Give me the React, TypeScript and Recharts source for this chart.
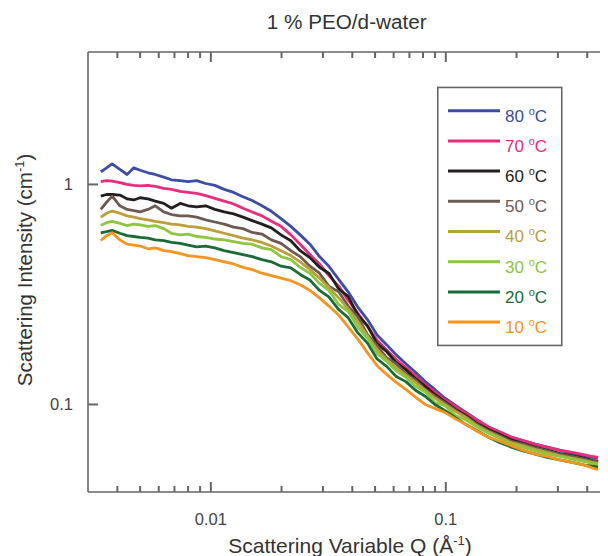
import { LineChart, Line, XAxis, YAxis } from 'recharts';

const q = [
  0.0034, 0.0036, 0.0038, 0.0041, 0.0044, 0.0047, 0.005, 0.0054, 0.0058, 0.0063,
  0.0068, 0.0074, 0.008, 0.0087, 0.0095, 0.0104, 0.0114, 0.0125, 0.0137, 0.015,
  0.0165, 0.0181, 0.0199, 0.0219, 0.024, 0.0264, 0.029, 0.0318, 0.035, 0.0384,
  0.0422, 0.0464, 0.051, 0.056, 0.0615, 0.0676, 0.0743, 0.0817, 0.0898, 0.099,
  0.11, 0.122, 0.136, 0.152, 0.17, 0.19, 0.213, 0.24, 0.27, 0.305,
  0.345, 0.39, 0.42, 0.445,
];

const i80 = [
  1.14, 1.19, 1.24, 1.17, 1.11, 1.19, 1.16, 1.13, 1.11, 1.08,
  1.05, 1.04, 1.03, 1.04, 1.01, 0.99, 0.95, 0.92, 0.88, 0.845,
  0.8, 0.755, 0.7, 0.645, 0.59, 0.535, 0.47, 0.425, 0.37, 0.325,
  0.277, 0.243, 0.207, 0.187, 0.168, 0.153, 0.14, 0.127, 0.117, 0.107,
  0.099, 0.092, 0.085, 0.079, 0.075, 0.071, 0.0685, 0.066, 0.064, 0.062,
  0.06, 0.0585, 0.0575, 0.057,
];
const i70 = [
  1.03, 1.04, 1.035, 1.02, 1.0, 0.99, 0.985, 0.99, 0.98, 0.96,
  0.95, 0.93, 0.92, 0.91, 0.89, 0.865, 0.84, 0.815, 0.78, 0.75,
  0.72, 0.68, 0.645, 0.59, 0.535, 0.48, 0.435, 0.385, 0.345, 0.298,
  0.26, 0.226, 0.196, 0.177, 0.16, 0.147, 0.135, 0.123, 0.114, 0.105,
  0.098, 0.091, 0.085, 0.079, 0.075, 0.071, 0.0685, 0.066, 0.064, 0.062,
  0.0605, 0.059, 0.058, 0.0575,
];
const i60 = [
  0.885, 0.9, 0.9, 0.895, 0.86, 0.85, 0.87, 0.86, 0.84, 0.82,
  0.78, 0.82, 0.8, 0.79, 0.8, 0.77, 0.75, 0.735, 0.71, 0.685,
  0.66, 0.635, 0.59, 0.555, 0.5, 0.465, 0.42, 0.395, 0.335, 0.31,
  0.255, 0.228, 0.189, 0.174, 0.155, 0.144, 0.131, 0.121, 0.111, 0.103,
  0.095, 0.089, 0.082, 0.077, 0.073, 0.069, 0.0665, 0.064, 0.062, 0.06,
  0.0585, 0.057, 0.0557, 0.0552,
];
const i50 = [
  0.77, 0.83, 0.885, 0.8, 0.77, 0.76, 0.75, 0.77, 0.8, 0.75,
  0.73, 0.72, 0.72, 0.71, 0.69, 0.675, 0.66, 0.64, 0.63, 0.605,
  0.595, 0.56, 0.54, 0.5, 0.47, 0.425, 0.395, 0.345, 0.325, 0.28,
  0.25, 0.208, 0.185, 0.163, 0.153, 0.138, 0.129, 0.117, 0.109, 0.102,
  0.094, 0.088, 0.081, 0.076, 0.072, 0.068, 0.066, 0.0635, 0.0615, 0.0595,
  0.058, 0.0565, 0.0553, 0.0548,
];
const i40 = [
  0.71, 0.74, 0.757, 0.74, 0.72, 0.71, 0.7, 0.69, 0.68, 0.67,
  0.66, 0.655, 0.645, 0.64, 0.63, 0.615, 0.6, 0.585, 0.57, 0.56,
  0.545, 0.525, 0.5, 0.475, 0.445, 0.41, 0.375, 0.34, 0.305, 0.272,
  0.238, 0.205, 0.177, 0.16, 0.147, 0.136, 0.126, 0.116, 0.107, 0.1,
  0.093, 0.087, 0.08, 0.075, 0.071, 0.067, 0.065, 0.0625, 0.0605, 0.0585,
  0.057, 0.0555, 0.0545, 0.054,
];
const i30 = [
  0.653, 0.67, 0.68, 0.665, 0.65, 0.66, 0.655, 0.645, 0.65, 0.63,
  0.6, 0.59, 0.595, 0.58, 0.575, 0.565, 0.56, 0.55, 0.54, 0.535,
  0.515, 0.505, 0.47, 0.455, 0.42, 0.395, 0.355, 0.33, 0.285, 0.265,
  0.225, 0.2, 0.17, 0.157, 0.142, 0.133, 0.121, 0.114, 0.102, 0.099,
  0.089, 0.085, 0.079, 0.074, 0.07, 0.066, 0.064, 0.0615, 0.0595, 0.058,
  0.0565, 0.055, 0.054, 0.0535,
];
const i20 = [
  0.603, 0.61, 0.618, 0.6, 0.585, 0.58, 0.575, 0.57, 0.56, 0.555,
  0.545, 0.54, 0.53, 0.52, 0.525, 0.515, 0.5, 0.49, 0.48, 0.47,
  0.455, 0.445, 0.425, 0.418, 0.39, 0.368, 0.33, 0.308, 0.27, 0.248,
  0.212, 0.19, 0.161, 0.149, 0.134, 0.127, 0.116, 0.109, 0.1, 0.094,
  0.087, 0.081, 0.076, 0.071, 0.067, 0.064, 0.0615, 0.0595, 0.0575, 0.056,
  0.0545, 0.053, 0.0525, 0.052,
];
const i10 = [
  0.556, 0.585, 0.603, 0.56, 0.535, 0.53, 0.525, 0.51, 0.515, 0.5,
  0.495, 0.485, 0.475, 0.47, 0.465, 0.455, 0.445, 0.435, 0.42, 0.41,
  0.395, 0.385, 0.375, 0.365, 0.35, 0.33, 0.305, 0.28, 0.255, 0.225,
  0.198, 0.172, 0.15, 0.137, 0.126, 0.117, 0.108, 0.1, 0.096, 0.092,
  0.086, 0.081, 0.0755, 0.071, 0.068, 0.065, 0.062, 0.0595, 0.058, 0.056,
  0.0545, 0.053, 0.0515, 0.0505,
];

const temps = ['80', '70', '60', '50', '40', '30', '20', '10'];
const colors = ['#3b4da6', '#ee2a7b', '#231f20', '#6d5a52', '#bb9f3a', '#8dc63f', '#1b6b36', '#f7941d'];
const curves = [i80, i70, i60, i50, i40, i30, i20, i10];

const xTicks = [
  0.004, 0.005, 0.006, 0.007, 0.008, 0.009, 0.01,
  0.02, 0.03, 0.04, 0.05, 0.06, 0.07, 0.08, 0.09, 0.1,
  0.2, 0.3, 0.4,
];
const xTickLabels: Record<string, string> = { '0.01': '0.01', '0.1': '0.1' };
const yTicks = [0.1, 1];
const yTickLabels: Record<string, string> = { '0.1': '0.1', '1': '1' };

const data = q.map((qv, i) => {
  const row: Record<string, number> = { q: qv };
  temps.forEach((t, k) => {
    row['t' + t] = curves[k][i];
  });
  return row;
});

const font = 'Liberation Sans, Arial, Helvetica, sans-serif';
const axisColor = '#666';
const textColor = '#444';

// inward tick marks (MATLAB style), labels only on the decades
const BottomTick = ({ x, y, payload }: any) => {
  const lab = xTickLabels[String(payload.value)];
  return (
    <g>
      <line x1={x} x2={x} y1={y} y2={y - (lab ? 10 : 6)} stroke={axisColor} strokeWidth={2} />
      {lab && (
        <text x={x} y={y + 33} textAnchor="middle" fontSize={16.5} fill={textColor} fontFamily={font}>
          {lab}
        </text>
      )}
    </g>
  );
};

const TopTick = ({ x, y, payload }: any) => {
  const len = xTickLabels[String(payload.value)] ? 10 : 6;
  return <line x1={x} x2={x} y1={y} y2={y + len} stroke={axisColor} strokeWidth={2} />;
};

const LeftTick = ({ x, y, payload }: any) => (
  <g>
    <line x1={x} x2={x + 10} y1={y} y2={y} stroke={axisColor} strokeWidth={2} />
    <text x={x - 15} y={y + 6} textAnchor="end" fontSize={16.5} fill={textColor} fontFamily={font}>
      {yTickLabels[String(payload.value)]}
    </text>
  </g>
);

const RightTick = ({ x, y }: any) => (
  <line x1={x} x2={x - 10} y1={y} y2={y} stroke={axisColor} strokeWidth={2} />
);

const Overlay = () => (
  <svg width={600} height={548} style={{ position: 'absolute', left: 0, top: 0, pointerEvents: 'none' }}>
    <text x={338.7} y={21.3} textAnchor="middle" fontSize={19.5} fill="#333" fontFamily={font}
      textLength={160} lengthAdjust="spacingAndGlyphs">
      1 % PEO/d-water
    </text>
    <text x={342} y={545} textAnchor="middle" fontSize={21} fill="#333" fontFamily={font}>
      Scattering Variable Q (Å
      <tspan dy={-8} fontSize={13}>-1</tspan>
      <tspan dy={8}>)</tspan>
    </text>
    <text x={24.3} y={262} transform="rotate(-90, 24.3, 262)" textAnchor="middle" fontSize={20.5}
      fill="#333" fontFamily={font}>
      Scattering Intensity (cm
      <tspan dy={-8} fontSize={13}>-1</tspan>
      <tspan dy={8}>)</tspan>
    </text>
    <g transform="translate(429, 78.7)">
      <rect x={0.75} y={0.75} width={124} height={258} fill="#fff" stroke="#666" strokeWidth={1.6} />
      {temps.map((t, i) => {
        const y = 24 + 30.2 * i;
        return (
          <g key={t}>
            <line x1={11} x2={63} y1={y} y2={y} stroke={colors[i]} strokeWidth={3} />
            <text x={68} y={y + 11} fill={colors[i]} fontSize={17} fontFamily={font}>
              {t + ' '}
              <tspan dy={-7} fontSize={11}>o</tspan>
              <tspan dy={7}>C</tspan>
            </text>
          </g>
        );
      })}
    </g>
  </svg>
);

export default function App() {
  return (
    <div style={{ width: 600, height: 548, overflow: 'hidden', position: 'relative' }}>
      <LineChart width={603} height={548} data={data} margin={{ top: 0, right: 0, bottom: 0, left: 0 }}
        style={{ fontFamily: font }}>
        <XAxis xAxisId="b" dataKey="q" type="number" scale="log" domain={[0.003, 0.5]} allowDataOverflow
          ticks={xTicks} interval={0} height={64} tickSize={0} tickMargin={0} tickLine={false}
          tick={(p: any) => <BottomTick {...p} />} axisLine={{ stroke: axisColor, strokeWidth: 1.6 }} />
        <XAxis xAxisId="t" orientation="top" dataKey="q" type="number" scale="log" domain={[0.003, 0.5]}
          allowDataOverflow ticks={xTicks} interval={0} height={44} tickSize={0} tickMargin={0}
          tickLine={false} tick={(p: any) => <TopTick {...p} />}
          axisLine={{ stroke: axisColor, strokeWidth: 1.6 }} />
        <YAxis yAxisId="l" type="number" scale="log" domain={[0.04, 4]} allowDataOverflow ticks={yTicks}
          interval={0} width={80} tickSize={0} tickMargin={0} tickLine={false}
          tick={(p: any) => <LeftTick {...p} />} axisLine={{ stroke: axisColor, strokeWidth: 1.6 }} />
        <YAxis yAxisId="r" orientation="right" type="number" scale="log" domain={[0.04, 4]} allowDataOverflow
          ticks={yTicks} interval={0} width={1} tickSize={0} tickMargin={0} tickLine={false}
          tick={(p: any) => <RightTick {...p} />} axisLine={{ stroke: axisColor, strokeWidth: 1.6 }} />
        {temps.map((t, i) => (
          <Line key={t} xAxisId="b" yAxisId="l" type="linear" dataKey={'t' + t} stroke={colors[i]}
            strokeWidth={2.8} strokeLinejoin="round" dot={false} activeDot={false}
            isAnimationActive={false} />
        ))}
      </LineChart>
      <Overlay />
    </div>
  );
}
